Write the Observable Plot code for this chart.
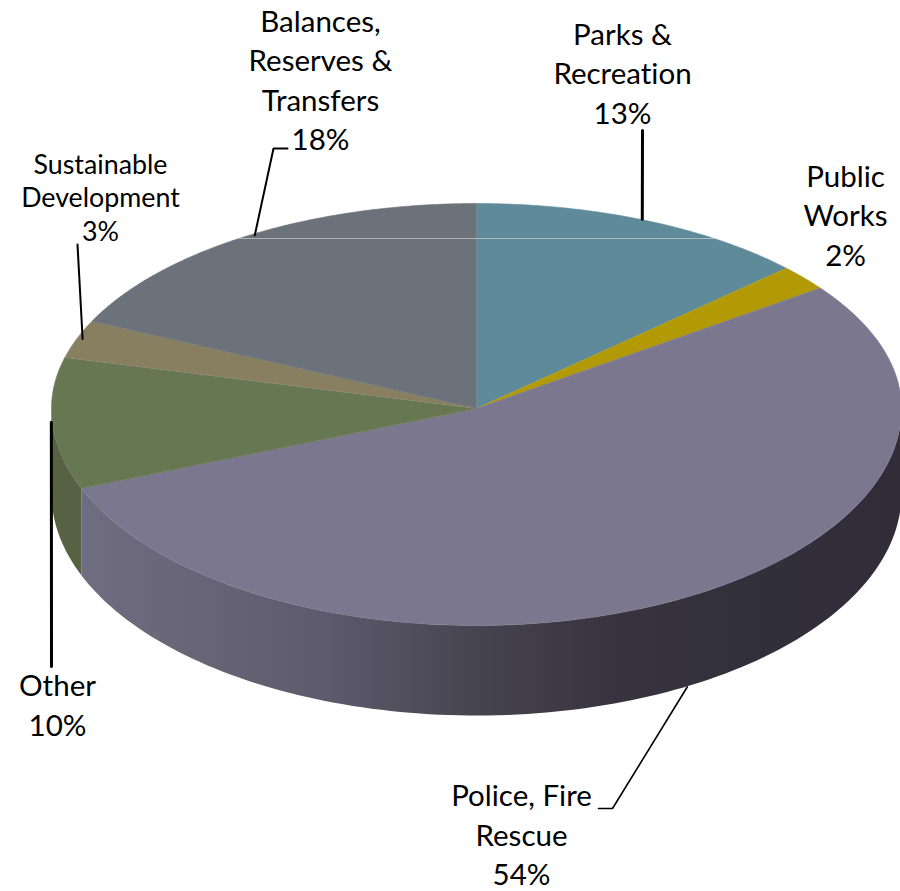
<!DOCTYPE html>
<html>
<head>
<meta charset="utf-8">
<style>
  html, body { margin: 0; padding: 0; background: #fff; }
  svg { display: block; }
</style>
<script src="https://cdn.jsdelivr.net/npm/d3@7"></script>
<script src="https://cdn.jsdelivr.net/npm/@observablehq/plot@0.6"></script>
</head>
<body>
<div id="chart"></div>
<script>
// Budget share by department, clockwise from twelve o'clock.
const categories = ["Parks & Recreation", "Public Works", "Police, Fire Rescue", "Other", "Sustainable Development", "Balances, Reserves & Transfers"];
const shares = [13, 2, 54, 10, 3, 18];
const labelLines = [
  ["Parks &", "Recreation"],
  ["Public", "Works"],
  ["Police, Fire", "Rescue"],
  ["Other"],
  ["Sustainable", "Development"],
  ["Balances,", "Reserves &", "Transfers"]
];
const faceColors = ["#5f8a9a", "#b29a07", "#7b778e", "#677752", "#877f60", "#6c7279"];
const otherRimColor = "#566243";

// Where each label block is centred, and its type size.
const labelX = [622, 845, 521, 57, 100, 320];
const labelY = [71, 213, 832.5, 703, 196, 78];
const labelSize = [29.5, 29.5, 29.5, 29.5, 26.8, 29.5];

// Leader lines run from a slice's midpoint on the rim to a bend near its label.
const leaderBends = [
  [[642, 130]],
  [],
  [[612, 808], [598, 808]],
  [[51, 666]],
  [[77, 244]],
  [[273, 148], [287, 148]]
];
const leaderNudge = [[-3, -1], [0, 0], [6, -1], [-1, 0], [6, 0], [6, 0]];
const leaderWidth = [3, 0, 1.6, 3, 2, 2];

// Tilted-disc geometry, in chart units.
const cx = 476, cy = 408, rx = 425;
const ryBack = 205, ryFront = 217;
const depthAtSide = 85, depthAtFront = 90;

const rad = (pct) => (pct / 100) * 2 * Math.PI;
const upperRim = (pct) => {
  const a = rad(pct), c = Math.cos(a);
  return {x: cx + rx * Math.sin(a), y: cy - (c > 0 ? ryBack : ryFront) * c};
};
const lowerRim = (pct) => {
  const p = upperRim(pct), c = Math.cos(rad(pct));
  return {x: p.x, y: p.y + depthAtSide + (depthAtFront - depthAtSide) * Math.max(0, -c)};
};
const sweep = (from, to) => d3.range(0, 121).map((i) => from + (to - from) * i / 120);

const edges = d3.cumsum(shares);
const sliceStart = (i) => (i === 0 ? 0 : edges[i - 1]);

// Top face of every slice.
const faces = categories.flatMap((category, i) => [
  {category, x: cx, y: cy},
  ...sweep(sliceStart(i), edges[i]).map((p) => ({category, ...upperRim(p)}))
]);

// Visible side walls: the big slice from three o'clock on, and the part of the next slice up to nine o'clock.
const policeIndex = 2, otherIndex = 3;
const wall = (from, to) => [
  ...sweep(from, to).map(upperRim),
  ...sweep(to, from).map(lowerRim)
];
const policeWall = wall(25, edges[policeIndex]);
const otherWall = wall(sliceStart(otherIndex), 75);

// Thin highlight across the back of the disc.
const highlightY = 238;
const highlightHalf = rx * Math.sqrt(1 - ((cy - highlightY) / ryBack) ** 2);
const highlight = [{x: cx - highlightHalf, y: highlightY}, {x: cx + highlightHalf, y: highlightY}];

const leaders = categories.flatMap((category, i) => {
  if (!leaderBends[i].length) return [];
  const mid = sliceStart(i) + shares[i] / 2;
  const rim = Math.cos(rad(mid)) < 0 && Math.sin(rad(mid)) > 0 ? lowerRim(mid) : upperRim(mid);
  const anchor = {x: rim.x + leaderNudge[i][0], y: rim.y + leaderNudge[i][1]};
  return [anchor, ...leaderBends[i].map(([x, y]) => ({x, y}))].map((p) => ({category, width: leaderWidth[i], ...p}));
});

const labels = categories.map((category, i) => ({
  x: labelX[i],
  y: labelY[i],
  size: labelSize[i],
  text: [...labelLines[i], `${shares[i]}%`].join("\n")
}));

const rimGradient = () => {
  const g = d3.create("svg:linearGradient").attr("id", "rimShade").attr("x1", 0).attr("x2", 1).attr("y1", 0).attr("y2", 0);
  [[0, "#706d82"], [0.1, "#6a6779"], [0.3, "#5c5a6b"], [0.5, "#45424f"], [0.65, "#37343f"], [0.8, "#32303a"], [1, "#302d38"]]
    .forEach(([offset, color]) => g.append("stop").attr("offset", offset).attr("stop-color", color));
  const defs = d3.create("svg:defs");
  defs.node().append(g.node());
  return defs.node();
};

const chart = Plot.plot({
  width: 900,
  height: 891,
  margin: 0,
  style: {fontFamily: "Lato", background: "#fff", color: "#000", fontVariantLigatures: "none"},
  x: {domain: [0, 900], range: [0, 900], axis: null},
  y: {domain: [0, 891], range: [0, 891], axis: null},
  color: {domain: categories, range: faceColors},
  marks: [
    rimGradient,
    Plot.line(policeWall, {x: "x", y: "y", fill: "url(#rimShade)", curve: "linear"}),
    Plot.line(otherWall, {x: "x", y: "y", fill: otherRimColor, curve: "linear"}),
    Plot.line(faces, {x: "x", y: "y", z: "category", fill: "category", stroke: "category", strokeWidth: 0.6, curve: "linear"}),
    Plot.line(highlight, {x: "x", y: "y", stroke: "#c9cdd0", strokeOpacity: 0.7, strokeWidth: 1}),
    ...categories.map((category) =>
      Plot.line(leaders.filter((d) => d.category === category), {
        x: "x", y: "y", stroke: "#000",
        strokeWidth: (leaders.find((d) => d.category === category) || {width: 1}).width,
        strokeLinejoin: "miter", curve: "linear"
      })
    ),
    ...labels.map((d) =>
      Plot.text([d], {x: "x", y: "y", text: "text", fontSize: d.size, lineHeight: d.size < 28 ? 1.26 : 1.34, fill: "#000", textAnchor: "middle"})
    )
  ]
});
document.getElementById("chart").append(chart);
</script>
</body>
</html>
